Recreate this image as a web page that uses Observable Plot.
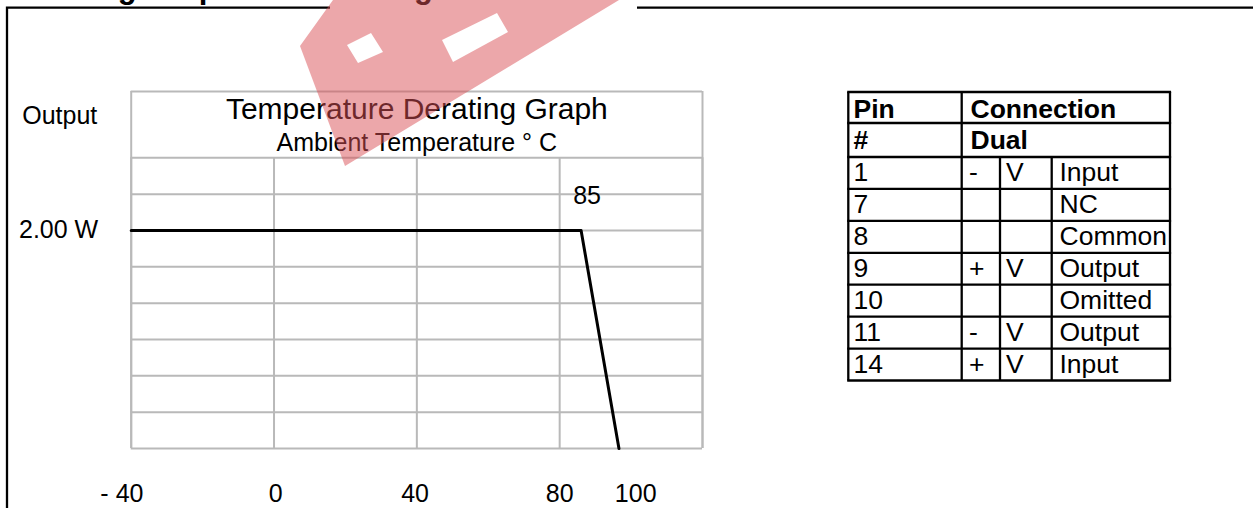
<!DOCTYPE html>
<html><head><meta charset="utf-8">
<script src="https://cdn.jsdelivr.net/npm/d3@7"></script>
<script src="https://cdn.jsdelivr.net/npm/@observablehq/plot@0.6"></script>
<style>
html,body{margin:0;padding:0;background:#fff;}
#wrap{position:relative;width:1253px;height:508px;overflow:hidden;background:#fff;}
</style></head><body><div id="wrap"></div>
<script>
const FONT = '"Liberation Sans", Arial, Helvetica, sans-serif';

// ---- derating curve (ambient °C → output W) ----
const tempC = [-40, 86, 96.6];
const outputW = [2, 2, 0];
// grid
const xGridC = [-40, 0, 40, 80, 120];
const yGridW = [0, 1/3, 2/3, 1, 4/3, 5/3, 2, 7/3, 8/3];
const yTopW = 3.275;
// tick labels
const xTickPos = [-42.6, 0.5, 39.5, 80, 101.3];
const xTickLabels = ["- 40", "0", "40", "80", "100"];
const yTickW = [2];
const yTickLabels = ["2.00 W"];
const kneeC = [86];
const kneeW = [2];
const kneeLabels = ["85"];
// texts
const chartTitle = "Temperature Derating Graph";
const chartSubtitle = "Ambient Temperature ° C";
const yLabel = "Output";
const pageTitle = "Derating Graph and Pin Diagram";

// ---- pin table ----
const tableHead1 = ["Pin", "Connection"];
const tableHead2 = ["#", "Dual"];
const pinNo   = ["1", "7", "8", "9", "10", "11", "14"];
const pinSign = ["-", "", "", "+", "", "-", "+"];
const pinV    = ["V", "", "", "V", "", "V", "V"];
const pinFunc = ["Input", "NC", "Common", "Output", "Omitted", "Output", "Input"];

const curve = tempC.map((t, i) => ({t, w: outputW[i]}));
const xTicks = xTickPos.map((p, i) => ({p, label: xTickLabels[i]}));
const yTicks = yTickW.map((w, i) => ({w, label: yTickLabels[i]}));
const knee = kneeC.map((t, i) => ({t, w: kneeW[i], label: kneeLabels[i]}));

const GRID = "#b9b9b9";
const plot = Plot.plot({
  width: 1253, height: 508,
  marginLeft: 130.7, marginRight: 551, marginTop: 91, marginBottom: 60,
  x: {domain: [-40, 120], axis: null},
  y: {domain: [0, yTopW], axis: null},
  style: {fontFamily: FONT, fontSize: "25px", color: "#000", background: "#fff", overflow: "visible"},
  marks: [
    Plot.ruleY(yGridW, {x1: -40, x2: 120, stroke: GRID, strokeWidth: 2}),
    Plot.ruleX(xGridC, {y1: 0, y2: 8/3, stroke: GRID, strokeWidth: 2}),
    Plot.ruleX([-40, 120], {y1: 0, y2: yTopW, stroke: GRID, strokeWidth: 2}),
    Plot.ruleY([yTopW], {x1: -40, x2: 120, stroke: GRID, strokeWidth: 2}),
    Plot.line(curve, {x: "t", y: "w", stroke: "#000", strokeWidth: 3}),
    Plot.text(xTicks, {x: "p", text: "label", frameAnchor: "bottom", lineAnchor: "bottom", dy: 53.7, fontSize: 25, fill: "#000"}),
    Plot.text(yTicks, {y: "w", text: "label", frameAnchor: "left", textAnchor: "end", dx: -33, fontSize: 25, fill: "#000"}),
    Plot.text(knee, {x: "t", y: "w", text: "label", lineAnchor: "bottom", dx: 6, dy: -26, fontSize: 25, fill: "#000"}),
    Plot.text([yLabel], {text: d => d, frameAnchor: "top-left", textAnchor: "start", lineAnchor: "bottom", dx: -109, dy: 32.3, fontSize: 25, fill: "#000"}),
    Plot.text([chartTitle], {text: d => d, frameAnchor: "top", lineAnchor: "bottom", dy: 27.3, fontSize: 30, fill: "#000"}),
    Plot.text([chartSubtitle], {text: d => d, frameAnchor: "top", lineAnchor: "bottom", dy: 59, fontSize: 25, fill: "#000"})
  ]
});
document.getElementById("wrap").appendChild(plot);

const svg = d3.select(plot);
const deco = svg.append("g").attr("text-anchor", "start");

// page frame and cut-off page title (only its lower edge lies inside the page)
deco.append("text").attr("x", 11).attr("y", -2.5).attr("font-family", FONT).attr("font-weight", "bold")
  .attr("font-size", 31).attr("fill", "#000").attr("text-anchor", "start").text(pageTitle);
deco.append("path").attr("d", "M7,508 L7,7.7 L330,7.7 M637,7.7 L1253,7.7").attr("fill", "none").attr("stroke", "#000").attr("stroke-width", 2.3);

// pin table
const tX = [848.3, 961.7, 1000, 1051.7, 1170];
const headY = [92, 123, 157];
const rowH = (380.5 - 157) / pinNo.length;
const rowY = pinNo.map((_, i) => 157 + i * rowH);
const bottomY = 380.5;
const tg = deco.append("g").attr("stroke", "#000").attr("stroke-width", 2.3);
[...headY, ...rowY.slice(1), bottomY].forEach(y => tg.append("line").attr("x1", tX[0] - 1.1).attr("x2", tX[4] + 1.1).attr("y1", y).attr("y2", y));
[tX[0], tX[1], tX[4]].forEach(x => tg.append("line").attr("x1", x).attr("x2", x).attr("y1", headY[0]).attr("y2", bottomY));
[tX[2], tX[3]].forEach(x => tg.append("line").attr("x1", x).attr("x2", x).attr("y1", headY[2]).attr("y2", bottomY));
const tt = deco.append("g").attr("font-family", FONT).attr("font-size", 26.5).attr("fill", "#000").attr("text-anchor", "start");
const addT = (x, y, s, bold) => tt.append("text").attr("x", x).attr("y", y).attr("text-anchor", "start").attr("font-weight", bold ? "bold" : "normal").text(s);
addT(853.5, headY[0] + 25.5, tableHead1[0], true);
addT(970.5, headY[0] + 25.5, tableHead1[1], true);
addT(853.5, headY[1] + 25.5, tableHead2[0], true);
addT(970.5, headY[1] + 25.5, tableHead2[1], true);
pinNo.forEach((p, i) => {
  const y = rowY[i] + 24;
  addT(853.5, y, p);
  addT(969, y, pinSign[i]);
  addT(1006, y, pinV[i]);
  addT(1059.5, y, pinFunc[i]);
});

// watermark (semi-transparent logo)
const wm = deco.append("g");
wm.append("path")
  .attr("d", "M345,166 L300,46 L333,0 L619,0 Z M442,40 L497,13 L508,32 L453,62 Z M347,45 L371,33 L383,52 L358,63 Z")
  .attr("fill", "rgb(217,80,86)").attr("fill-opacity", 0.5).attr("fill-rule", "evenodd");
</script>
</body></html>
